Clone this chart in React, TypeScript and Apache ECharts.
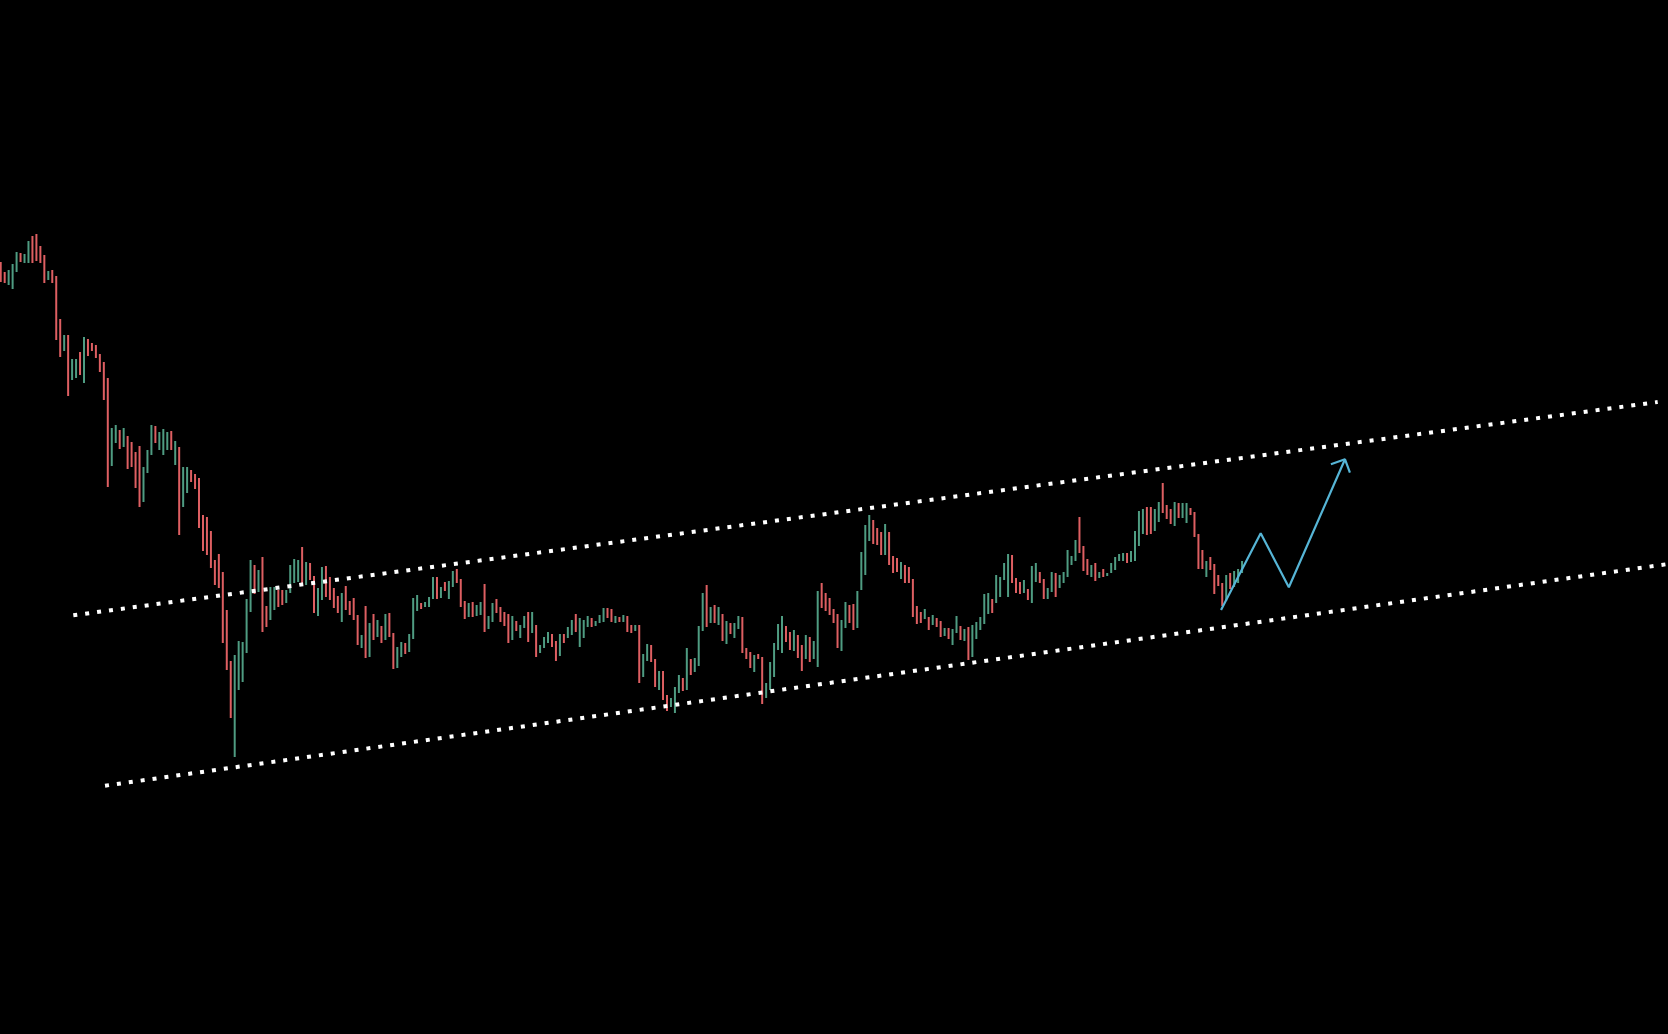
import React, { useEffect, useRef } from "react";
import * as echarts from "echarts";

// Bar-by-bar high / low values (price units)
const highs: number[] = [
  77.2, 76.2, 76.4, 77.0, 78.2, 78.1, 78.0, 79.3, 79.8, 80.0, 78.8, 77.9, 76.3, 76.4,
  75.8, 71.5, 69.9, 69.9, 67.5, 67.5, 68.2, 69.7, 69.5, 69.1, 68.9, 68.0, 67.2, 65.6,
  60.6, 60.9, 60.4, 60.6, 59.8, 59.2, 58.2, 58.8, 56.7, 58.4, 60.9, 60.8, 60.2, 60.5,
  60.2, 60.3, 59.3, 58.7, 56.7, 56.7, 56.4, 56.0, 55.6, 51.9, 51.7, 50.3, 47.4, 48.0,
  46.2, 42.4, 37.3, 37.9, 39.3, 39.2, 43.5, 47.4, 46.9, 46.4, 47.7, 42.8, 44.7, 44.7,
  44.4, 44.4, 44.4, 46.9, 47.5, 47.4, 48.7, 47.2, 47.1, 45.8, 44.6, 46.7, 46.8, 45.7,
  44.6, 43.8, 44.1, 44.8, 43.3, 43.6, 41.9, 39.9, 42.8, 41.1, 42.0, 41.4, 40.8, 42.0,
  42.1, 40.1, 38.7, 39.2, 39.1, 40.0, 43.6, 43.9, 43.1, 43.2, 43.7, 45.7, 45.7, 44.7,
  45.2, 45.3, 46.3, 46.5, 45.5, 43.3, 43.1, 43.2, 42.9, 43.2, 45.0, 41.8, 43.1, 43.5,
  42.7, 42.2, 42.0, 41.8, 41.3, 40.9, 41.8, 42.2, 42.2, 40.9, 38.9, 39.7, 40.2, 40.0,
  39.3, 40.0, 40.0, 40.7, 41.4, 42.0, 41.6, 41.4, 41.8, 41.6, 41.3, 41.9, 42.6, 42.6,
  42.5, 41.8, 41.7, 41.9, 41.8, 40.9, 40.9, 40.9, 38.0, 39.0, 38.9, 37.5, 36.3, 36.3,
  33.9, 33.6, 34.7, 35.9, 35.6, 38.6, 37.5, 37.6, 40.8, 44.1, 44.9, 42.7, 42.9, 42.7,
  42.0, 41.3, 41.1, 41.1, 41.8, 41.7, 38.6, 38.2, 37.9, 38.0, 37.7, 35.1, 37.2, 39.1,
  41.0, 41.8, 40.8, 40.2, 40.4, 39.9, 38.9, 39.9, 39.7, 39.3, 44.3, 45.1, 44.1, 43.6,
  42.5, 42.0, 41.4, 43.2, 42.9, 43.0, 44.3, 48.2, 50.9, 51.9, 51.4, 50.6, 50.2, 51.0,
  50.2, 47.8, 47.6, 47.2, 46.9, 46.7, 45.5, 42.8, 42.2, 42.5, 41.7, 41.9, 41.6, 41.3,
  40.6, 40.6, 40.5, 41.8, 40.8, 40.5, 40.7, 40.9, 41.2, 41.7, 44.0, 44.1, 43.5, 45.9,
  45.7, 47.1, 48.0, 47.9, 45.6, 45.2, 45.4, 44.5, 46.8, 47.1, 46.2, 45.5, 44.6, 46.2,
  46.1, 45.9, 46.2, 48.4, 47.8, 49.4, 51.7, 48.8, 47.5, 46.9, 47.1, 46.2, 46.5, 46.1,
  47.1, 47.7, 48.0, 48.1, 48.1, 48.3, 50.3, 52.3, 52.5, 52.7, 52.7, 52.5, 53.2, 55.1,
  52.9, 52.5, 53.2, 53.1, 53.1, 53.1, 52.6, 52.2, 50.0, 48.4, 47.3, 47.7, 47.0, 45.9,
  45.1, 45.9, 46.1, 46.3, 46.5, 47.3,
];

const lows: number[] = [
  75.2, 75.1, 74.9, 74.5, 76.2, 77.2, 77.1, 77.1, 77.1, 77.3, 77.1, 75.1, 75.4, 75.1,
  69.4, 67.7, 68.3, 63.8, 65.4, 65.6, 65.9, 65.1, 67.8, 68.3, 67.6, 66.2, 63.4, 54.7,
  56.8, 59.1, 58.5, 58.7, 56.5, 56.7, 54.6, 52.7, 53.2, 56.1, 57.9, 59.1, 58.4, 57.9,
  58.4, 58.4, 56.9, 49.9, 52.7, 54.1, 55.2, 54.5, 50.6, 48.3, 47.9, 46.6, 44.9, 44.6,
  39.1, 36.4, 31.6, 27.7, 34.4, 35.2, 38.1, 42.2, 44.0, 44.2, 40.2, 40.7, 41.4, 42.4,
  42.7, 42.9, 43.1, 44.1, 45.1, 45.2, 44.8, 44.9, 45.4, 42.1, 41.8, 43.4, 43.7, 43.4,
  42.6, 42.1, 41.2, 42.4, 41.9, 41.4, 38.9, 38.6, 37.6, 37.7, 39.4, 39.7, 39.1, 39.4,
  39.7, 36.5, 36.6, 37.7, 38.0, 38.2, 39.5, 42.3, 42.5, 42.7, 42.7, 43.5, 43.5, 43.6,
  44.3, 43.5, 44.7, 45.1, 42.7, 41.5, 41.7, 41.7, 41.8, 41.9, 40.2, 40.5, 41.2, 42.1,
  41.2, 40.8, 39.1, 39.4, 40.3, 39.6, 40.6, 39.2, 40.1, 37.7, 38.1, 38.6, 39.1, 38.7,
  37.3, 37.8, 39.1, 39.6, 39.9, 40.2, 38.7, 39.6, 40.7, 40.7, 40.8, 41.1, 41.2, 41.6,
  41.2, 41.1, 41.2, 41.2, 40.2, 40.1, 40.3, 35.1, 35.7, 37.3, 37.2, 34.7, 34.4, 33.4,
  32.3, 32.7, 32.1, 34.1, 34.3, 34.4, 35.9, 36.2, 36.8, 40.3, 40.7, 41.1, 41.1, 40.9,
  39.3, 39.0, 40.0, 39.6, 40.5, 38.1, 37.5, 36.6, 36.2, 37.5, 33.0, 33.6, 34.4, 35.7,
  38.4, 38.1, 39.2, 38.4, 38.3, 37.6, 36.3, 37.5, 37.2, 37.5, 36.7, 42.6, 42.3, 41.9,
  41.1, 38.6, 38.3, 40.6, 41.1, 40.4, 40.6, 44.4, 45.9, 49.3, 49.0, 48.9, 47.9, 47.9,
  46.9, 46.1, 46.2, 45.5, 45.1, 45.1, 41.7, 41.0, 41.1, 41.5, 40.4, 40.9, 40.7, 39.7,
  39.8, 39.5, 38.9, 40.1, 39.4, 39.3, 37.4, 37.7, 39.5, 40.4, 41.0, 42.0, 42.1, 43.1,
  43.7, 45.4, 43.7, 45.1, 44.1, 44.0, 44.1, 43.4, 43.1, 45.2, 45.1, 43.5, 43.5, 44.2,
  43.7, 44.6, 45.1, 45.7, 46.9, 47.3, 48.1, 46.3, 45.9, 45.7, 45.3, 45.6, 45.7, 45.8,
  46.1, 46.4, 47.3, 47.3, 47.1, 47.2, 47.3, 48.8, 50.0, 49.9, 50.0, 50.3, 51.2, 52.1,
  51.5, 51.0, 50.8, 51.6, 51.6, 51.1, 51.9, 49.7, 46.5, 46.5, 45.7, 46.4, 44.0, 44.8,
  42.8, 43.3, 44.5, 44.7, 45.1, 46.1,
];

// G = up bar (green), R = down bar (red)
const directions: string[] = (
  "RRGGGRGGRRRRGR" + "RRGRGGRGRRRRRR" + "GGRGRRRRGGGRGG" + "GRGRGGRRRRRRRR" +
  "RRRGGGGGRGRRGG" + "RRGGGGRGRRGGRR" + "RRGRRRRGRGRGRG" + "RRGGRGGGRGGGRG" +
  "RGGRRRGRGGRGGR" + "RRRGRGGRGRGGGR" + "RGRGGRGGGRGGGR" + "RGRGRRGRGGRRGR" +
  "RGGGRGRGGGRGRG" + "RGRGGRRRGRRGGG" + "GGRRGRRGRGGRRR" + "RRGGRRGGGGRRRG" +
  "RRRGRRRRRGRGRR" + "GRGGRGRGGGGGRG" + "GGGRRRGRGGRRGG" + "RGGGGGRRRGRGRG" +
  "GGGGRGGGGRRGGR" + "RRGRGGRRRRGRRR" + "RGRGGG"
).split("");

// Channel lines: [barIndex, price]
const upperChannel: number[][] = [[18.3, 41.87], [417.8, 63.2]];
const lowerChannel: number[][] = [[26.3, 24.83], [420.4, 47.0]];

// Projected path and its arrow head
const projection: number[][] = [[307.7, 42.4], [317.7, 50.07], [324.8, 44.67], [338.96, 57.47]];
const arrowHead: number[][] = [[335.4, 56.97], [338.96, 57.47], [340.2, 56.13]];

const UP = "#4f9c82";
const DOWN = "#de5f62";
const BLUE = "#56b5d6";

export default function App() {
  const ref = useRef<HTMLDivElement>(null);

  useEffect(() => {
    if (!ref.current) return;
    const chart = echarts.init(ref.current, undefined, { renderer: "svg" });
    const bars = highs.map((h, i) => [i, h, lows[i], directions[i] === "G" ? 1 : 0]);

    const dotted = {
      color: "#ffffff",
      width: 4,
      type: [4, 8] as any,
      cap: "butt" as const,
    };

    chart.setOption({
      animation: false,
      backgroundColor: "#000000",
      grid: { left: 0, right: 0, top: 0, bottom: 0, containLabel: false },
      xAxis: {
        type: "value",
        min: -0.18,
        max: 420.4,
        show: false,
        splitLine: { show: false },
      },
      yAxis: {
        type: "value",
        min: 0,
        max: 103.4,
        show: false,
        splitLine: { show: false },
      },
      series: [
        {
          type: "line",
          data: upperChannel,
          symbol: "none",
          lineStyle: dotted,
          silent: true,
        },
        {
          type: "line",
          data: lowerChannel,
          symbol: "none",
          lineStyle: dotted,
          silent: true,
        },
        {
          type: "custom",
          data: bars,
          renderItem: (params: any, api: any) => {
            const i = api.value(0);
            const hi = api.value(1);
            const lo = api.value(2);
            const up = api.value(3) === 1;
            const top = api.coord([i, hi]);
            const bot = api.coord([i, lo]);
            return {
              type: "rect",
              shape: {
                x: top[0] - 1,
                y: top[1],
                width: 2,
                height: Math.max(bot[1] - top[1], 1.5),
              },
              style: { fill: up ? UP : DOWN },
            };
          },
          silent: true,
        },
        {
          type: "line",
          data: projection,
          symbol: "none",
          lineStyle: { color: BLUE, width: 2.2 },
          silent: true,
        },
        {
          type: "line",
          data: arrowHead,
          symbol: "none",
          lineStyle: { color: BLUE, width: 2.2 },
          silent: true,
        },
      ],
    });

    return () => chart.dispose();
  }, []);

  return (
    <div
      ref={ref}
      style={{
        position: "fixed",
        left: 0,
        top: 0,
        width: 1668,
        height: 1034,
        background: "#000",
      }}
    />
  );
}
